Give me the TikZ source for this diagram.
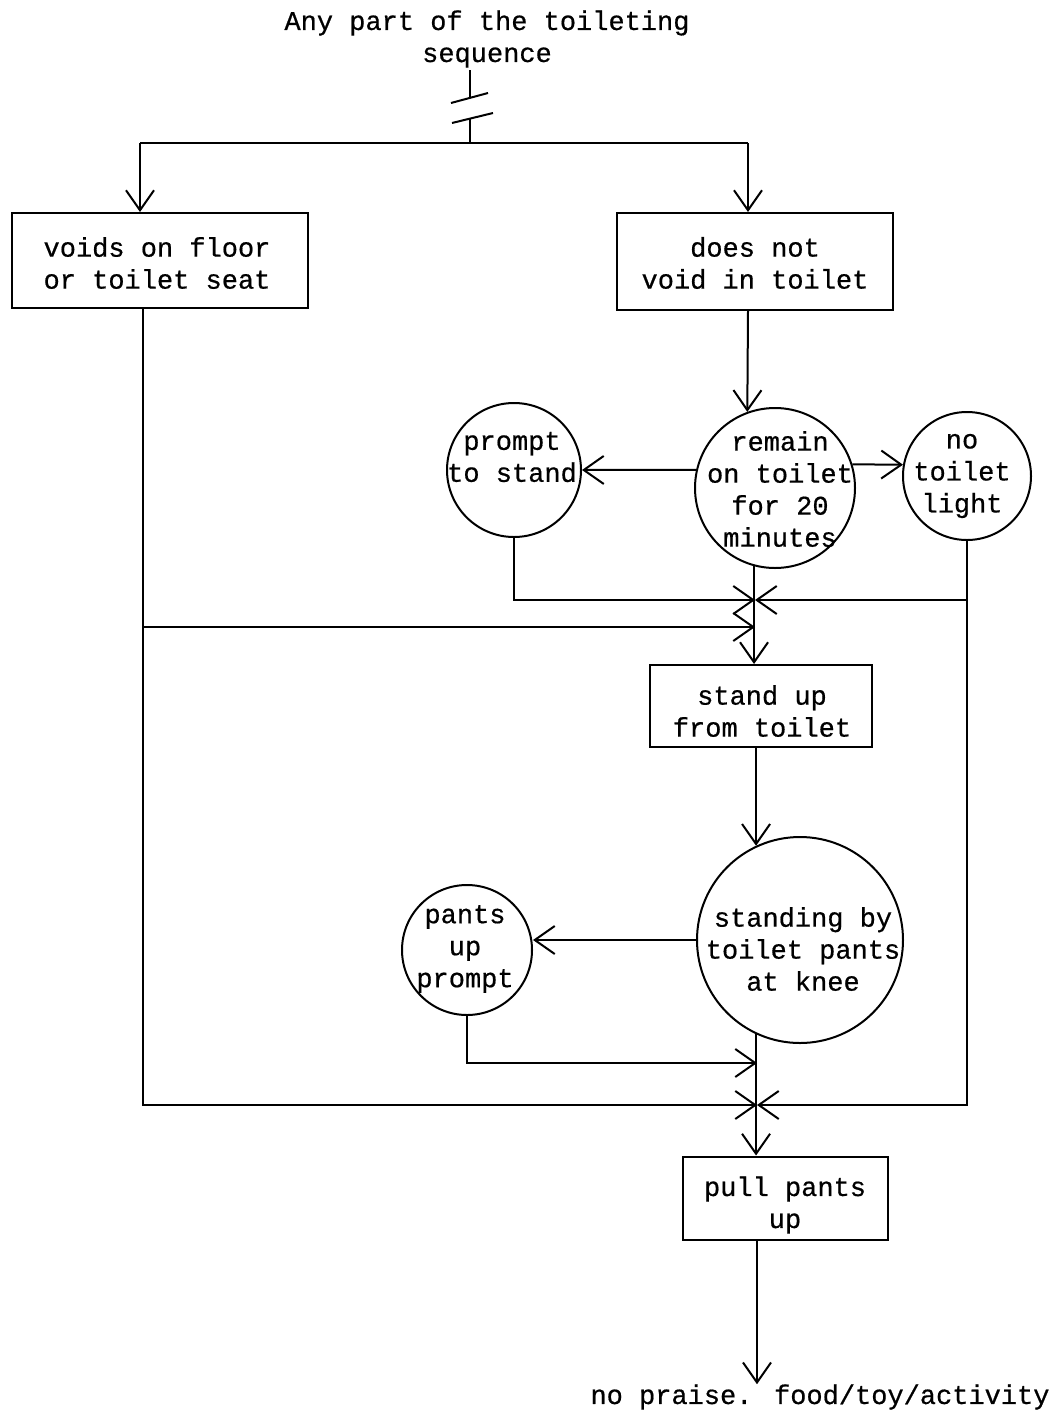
\documentclass[tikz,border=0pt]{standalone}
\usepackage{fontspec}
\setmainfont[FakeBold=0.6,AutoFakeBold=0.6]{Liberation Mono}
\usetikzlibrary{arrows.meta}
\begin{document}
\begin{tikzpicture}[x=1pt,y=-1pt,
  txt/.style={font=\fontsize{27}{32}\selectfont\bfseries, align=center, inner sep=0pt},
  line/.style={line width=2pt},
  arr/.style={line width=2pt, -{Straight Barb[length=20pt,width=28pt]}},
  box/.style={draw, line width=2pt, rectangle, inner sep=0pt},
  circ/.style={draw, line width=2pt, circle, inner sep=0pt}]
\useasboundingbox (0,0) rectangle (1053,1411);
% texts and nodes
\node[txt] (title) at (487,39) {Any part of the toileting\\sequence};
\node[box, minimum width=296pt, minimum height=95pt] (b1) at (160,260.5) {};
\node[txt] (b1T) at (157,263) {voids on floor\\or toilet seat};
\node[box, minimum width=276pt, minimum height=97pt] (b2) at (755,261.5) {};
\node[txt] (b2T) at (755,263) {does not\\void in toilet};
\node[circ, minimum size=160pt] (remain) at (775,488) {};
\node[txt] (remainT) at (780,489) {remain\\on toilet\\for 20\\minutes};
\node[circ, minimum size=134pt] (prompt) at (514,470) {};
\node[txt] (promptT) at (512,457) {prompt\\to stand};
\node[circ, minimum size=128pt] (nolight) at (967,476) {};
\node[txt] (nolightT) at (962,476) {no\\toilet\\light};
\node[box, minimum width=222pt, minimum height=82pt] (stand) at (761,706) {};
\node[txt] (standT) at (762,711) {stand up\\from toilet};
\node[circ, minimum size=206pt] (standing) at (800,940) {};
\node[txt] (standingT) at (803,949) {standing by\\toilet pants\\at knee};
\node[circ, minimum size=130pt] (pants) at (467,950) {};
\node[txt] (pantsT) at (465,949) {pants\\up\\prompt};
\node[box, minimum width=205pt, minimum height=83pt] (pull) at (785,1198) {};
\node[txt] (pullT) at (785,1205) {pull pants\\up};
\node[txt] (end) at (820,1397) {no praise. food/toy/activity};
% break symbol at top
\draw[line] (470,70) -- (470,97);
\draw[line] (451,103) -- (488,93);
\draw[line] (452,123) -- (493,113);
\draw[line] (470,118) -- (470,143);
% coordinates
\coordinate (cL) at (140,143);
\coordinate (cR) at (748,143);
\coordinate (Lx) at (143,0);
\coordinate (J1) at (755,600);
\coordinate (J2) at (755,627);
\coordinate (J3) at (757,1063);
\coordinate (J4) at (757,1105);
% connectors
\draw[line] (cL) -- (cR);
\draw[arr] (cL) -- (cL |- b1.north);
\draw[arr] (cR) -- (cR |- b2.north);
\draw[arr] (b2.south -| cR) -- (remain.110);
\draw[arr] (remain.167) -- (prompt.east);
\draw[arr] (remain.17) -- (nolight.170);
\draw[arr] (remain.255) -- (remain.255 |- stand.north);
\draw[arr] (prompt.south) |- (J1);
\draw[arr] (nolight.south) |- (J4);
\draw[arr] (nolight.south |- J1) -- (J1);
\draw[arr] (b1.south -| Lx) |- (J4);
\draw[arr] (Lx |- J2) -- (J2);
\draw[arr] (standing.115 |- stand.south) -- (standing.115);
\draw[arr] (standing.west) -- (standing.west -| pants.east);
\draw[arr] (pants.south) |- (J3);
\draw[arr] (standing.245) -- (standing.245 |- pull.north);
\draw[arr] (J3 |- pull.south) -- (J3 |- end.north);
\end{tikzpicture}
\end{document}
